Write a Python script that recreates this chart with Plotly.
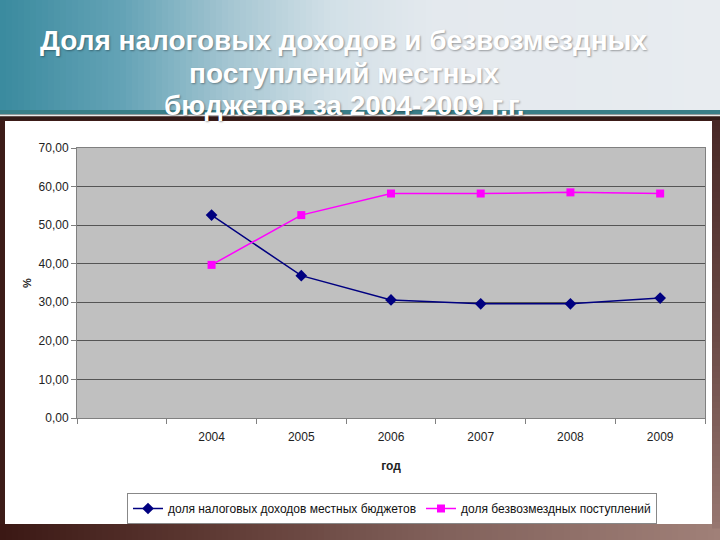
import plotly.graph_objects as go

years = ["2004", "2005", "2006", "2007", "2008", "2009"]
categories = [" "] + years
tax_share = [52.6, 36.9, 30.6, 29.6, 29.6, 31.1]
grant_share = [39.7, 52.6, 58.2, 58.2, 58.5, 58.2]
y_ticks = [0, 10, 20, 30, 40, 50, 60, 70]
y_tick_text = ["0,00", "10,00", "20,00", "30,00", "40,00", "50,00", "60,00", "70,00"]
series_names = ["доля налоговых доходов местных бюджетов", "доля безвозмездных поступлений"]
title_lines = ["Доля налоговых доходов и безвозмездных", "поступлений местных", "бюджетов за 2004-2009 г.г."]

W, H = 720, 540
L, R, T, B = 77, 15, 148, 122
PW, PH = W - L - R, H - T - B


def xp(px):
    return (px - L) / PW


def yp(py):
    return (H - B - py) / PH


def lerp(c1, c2, t):
    return "rgb(%d,%d,%d)" % tuple(round(a + (b - a) * t) for a, b in zip(c1, c2))


def multi(stops, t):
    for i in range(len(stops) - 1):
        t0, c0 = stops[i]
        t1, c1 = stops[i + 1]
        if t <= t1:
            return lerp(c0, c1, (t - t0) / (t1 - t0) if t1 > t0 else 0)
    return lerp(stops[-1][1], stops[-1][1], 0)


def rect(x0, y0, x1, y1, color):
    return dict(type="rect", xref="paper", yref="paper", layer="below",
                x0=xp(x0), x1=xp(x1), y0=yp(y1), y1=yp(y0),
                fillcolor=color, line=dict(width=0))


shapes = []
# frame base
shapes.append(rect(0, 110, W, H, "rgb(60,28,24)"))
# header gradient
hstops = [(0, (58, 138, 158)), (0.17, (100, 163, 182)), (0.32, (165, 198, 210)),
          (0.46, (210, 224, 231)), (0.6, (228, 233, 238)), (1, (232, 236, 240))]
step = 6
for x in range(0, W, step):
    shapes.append(rect(x, 0, x + step + 0.5, 111, multi(hstops, (x + step / 2) / W)))
# teal band + thin lines
shapes.append(rect(0, 110, W, 114.5, "rgb(58,126,136)"))
shapes.append(rect(0, 114.5, W, 116.5, "rgb(235,235,235)"))
shapes.append(rect(0, 116.5, W, 120, "rgb(50,26,24)"))
# bottom strip gradient
bstops = [(0, (58, 24, 20)), (0.3, (95, 58, 52)), (0.6, (128, 96, 90)), (1, (160, 128, 120))]
for x in range(0, W, step):
    shapes.append(rect(x, 524, x + step + 0.5, H, multi(bstops, (x + step / 2) / W)))
# right strip gradient
rstops = [(0, (72, 40, 38)), (0.5, (105, 72, 68)), (1, (150, 118, 112))]
for y in range(120, 524, step):
    shapes.append(rect(712, y, W, y + step + 0.5, multi(rstops, (y - 120) / 404)))
# white panel
shapes.append(rect(5, 121, 712, 524, "white"))
# plot area background
shapes.append(dict(type="rect", xref="paper", yref="paper", layer="below",
                   x0=0, x1=1, y0=0, y1=1, fillcolor="#c0c0c0", line=dict(width=0)))

fig = go.Figure()
fig.add_trace(go.Scatter(
    x=years, y=tax_share, name=series_names[0], mode="lines+markers",
    line=dict(color="#000080", width=1.5),
    marker=dict(symbol="diamond", size=9, color="#000080")))
fig.add_trace(go.Scatter(
    x=years, y=grant_share, name=series_names[1], mode="lines+markers",
    line=dict(color="#ff00ff", width=1.5),
    marker=dict(symbol="square", size=8, color="#ff00ff")))

annotations = []
title_y = [40, 73, 105]
for line, py in zip(title_lines, title_y):
    annotations.append(dict(
        text="<b>%s</b>" % line, xref="paper", yref="paper",
        x=xp(344), y=yp(py), xanchor="center", yanchor="middle", showarrow=False,
        font=dict(family="Liberation Sans, Arial", size=28, color="white",
                  shadow="1px 1px 2px rgba(0,0,0,0.35)")))

fig.update_layout(
    width=W, height=H,
    margin=dict(l=L, r=R, t=T, b=B, pad=0),
    paper_bgcolor="white",
    plot_bgcolor="rgba(0,0,0,0)",
    shapes=shapes,
    annotations=annotations,
    font=dict(family="Liberation Sans, Arial", size=12, color="#222"),
    xaxis=dict(
        type="category", categoryorder="array", categoryarray=categories,
        range=[-0.5, 6.5], tickson="boundaries", ticks="outside", ticklen=5,
        tickcolor="#808080", showgrid=False, showline=True, linecolor="#808080",
        mirror=True, zeroline=False, ticklabelstandoff=8,
        tickfont=dict(size=12, color="#222"),
        title=dict(text="<b>год</b>", font=dict(size=12, color="#222"), standoff=18)),
    yaxis=dict(
        range=[0, 70], tickvals=y_ticks, ticktext=y_tick_text,
        ticks="outside", ticklen=5, tickcolor="#808080",
        showgrid=True, gridcolor="#555555", gridwidth=1,
        showline=True, linecolor="#808080", mirror=True, zeroline=False,
        tickfont=dict(size=12, color="#222"),
        title=dict(text="<b>%</b>", font=dict(size=11, color="#222"), standoff=4)),
    legend=dict(
        orientation="h", x=xp(392), xanchor="center", y=yp(493), yanchor="top",
        bgcolor="white", bordercolor="#888888", borderwidth=1,
        font=dict(size=12, color="#111"), itemwidth=30, tracegroupgap=0),
    showlegend=True,
)

fig.write_html("out.html")
